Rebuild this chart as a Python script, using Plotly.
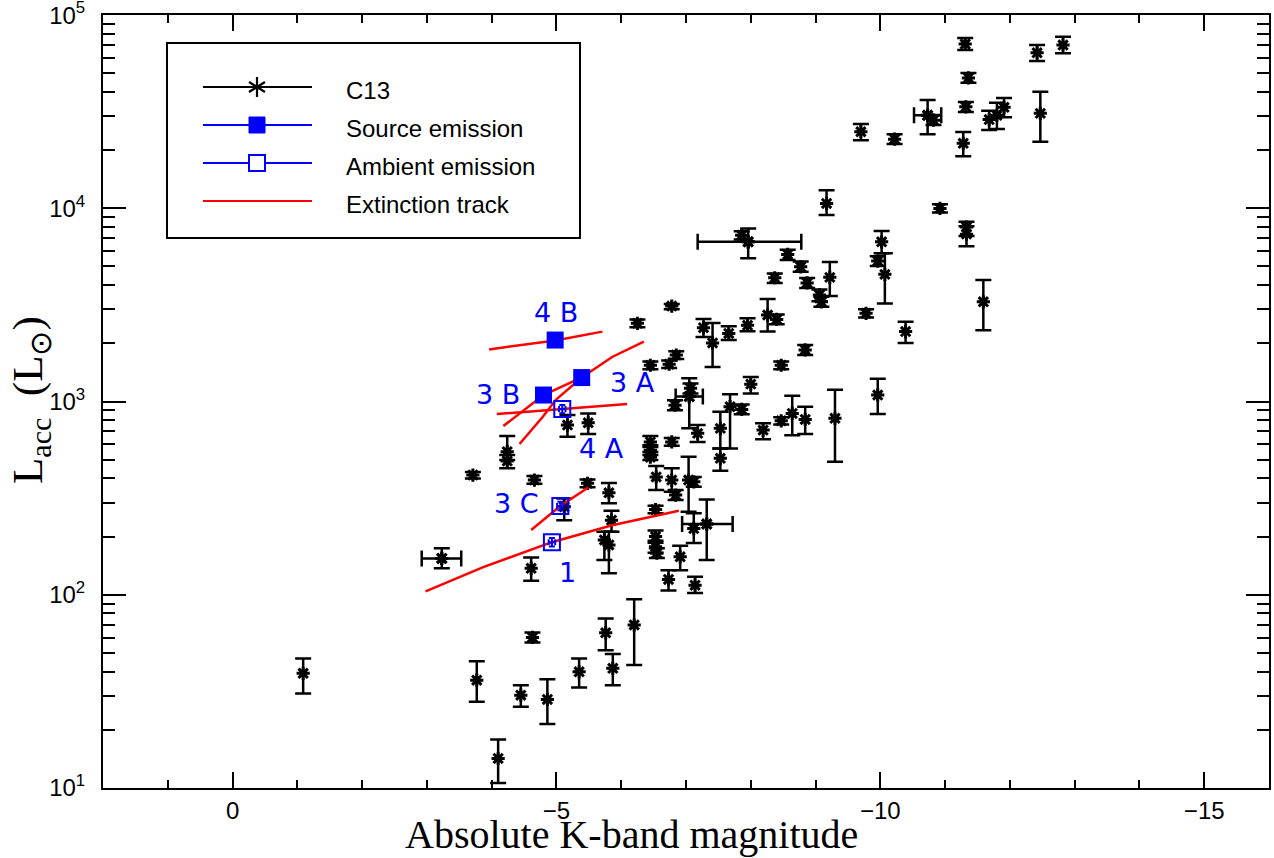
import math
import plotly.graph_objects as go

# ---------------- data ----------------
# C13 sample: absolute K magnitude, accretion luminosity (Lsun) and its error range
c13_mk = [-11.31, -12.42, -12.82, -11.36, -11.32, -10.73, -10.82, -11.28, -11.68, -11.80,
          -11.91, -12.47, -9.70, -10.22, -10.92, -11.33, -11.33, -10.02, -9.96, -10.07,
          -9.78, -10.39, -11.59, -9.96, -9.17, -7.96, -7.86, -8.57, -8.77, -8.37,
          -9.22, -8.87, -9.06, -9.09, -6.78, -7.27, -7.41, -7.66, -7.95, -8.26,
          -8.40, -8.84, -6.85, -6.74, -6.45, -8.47, -8.00, -7.05, -7.07, -6.83,
          -7.68, -7.86, -7.53, -7.18, -8.19, -8.47, -8.64, -8.84, -9.30, -7.53,
          -6.78, -6.25, -5.49, -5.17, -6.45, -6.45, -6.45, -6.54, -6.78, -6.84,
          -7.04, -7.12, -5.48, -5.81, -6.53, -5.85, -7.32, -7.12, -5.74, -5.81,
          -6.53, -6.53, -6.55, -6.91, -6.73, -7.14, -5.76, -5.87, -6.20, -5.35,
          -4.86, -4.45, -3.77, -4.10, -4.63, -4.61, -3.23, -1.09, -4.24, -4.24,
          -3.71, -4.66, -5.12]
c13_lacc = [70800, 63800, 70000, 47300, 33500, 30300, 28600, 21700, 28800, 30300,
            33300, 31000, 24900, 22800, 9990, 8000, 7350, 6710, 5330, 4550,
            2860, 2300, 3280, 1080, 10600, 6710, 7260, 5770, 4980, 4370,
            4390, 4110, 3560, 3280, 3120, 2410, 2010, 2250, 2480, 2800,
            2660, 1850, 1740, 1560, 1540, 1540, 1230, 1060, 1170, 957,
            940, 910, 726, 684, 711, 794, 867, 807, 818, 508,
            618, 2540, 776, 755, 618, 560, 515, 407, 392, 328,
            392, 384, 377, 337, 276, 243, 232, 220, 192, 181,
            200, 177, 164, 157, 120, 112, 63.5, 41.6, 69.7, 39.9,
            28.7, 30.2, 36.1, 14.2, 60.1, 137, 154, 39.2, 550, 492,
            416, 392, 285]
c13_lacc_lo = [65900, 57800, 63500, 44600, 31500, 24200, 27000, 18600, 25400, 25700,
               29600, 22100, 22500, 21500, 9500, 7180, 6370, 5860, 5030, 3220,
               2720, 2010, 2340, 861, 9220, 5510, 6900, 5400, 4700, 4100,
               3520, 3870, 3300, 3090, 3000, 2160, 1510, 2080, 2310, 2300,
               2510, 1740, 1660, 1490, 1470, 1470, 1100, 726, 1100, 902,
               571, 858, 571, 618, 637, 760, 668, 678, 488, 438,
               591, 2420, 678, 656, 581, 528, 498, 348, 341, 309,
               269, 362, 360, 297, 264, 212, 151, 185, 151, 129,
               186, 165, 155, 134, 105, 102, 51.6, 34.0, 43.3, 33.1,
               21.4, 26.3, 27.9, 10.6, 56.6, 118, 137, 30.8, 498, 451,
               400, 375, 243]
c13_lacc_hi = [76000, 70000, 77300, 50200, 35500, 36300, 30400, 24800, 32000, 35200,
               37200, 40100, 27300, 24200, 10500, 8510, 8070, 7620, 5650, 5860,
               3000, 2590, 4250, 1310, 12400, 7870, 7600, 6100, 5300, 4600,
               5280, 4360, 3800, 3480, 3200, 2670, 2550, 2450, 2700, 3390,
               2820, 1960, 1820, 1630, 1610, 1610, 1340, 1320, 1240, 1015,
               1090, 965, 885, 755, 771, 830, 1070, 940, 1150, 571,
               647, 2660, 867, 851, 662, 594, 547, 463, 451, 348,
               518, 407, 395, 379, 289, 272, 311, 264, 212, 212,
               215, 190, 174, 179, 134, 124, 75.3, 49.3, 94.8, 46.8,
               36.5, 34.0, 45.3, 17.8, 63.8, 156, 174, 46.8, 662, 528,
               432, 411, 315]
# the few C13 sources that also carry a magnitude error bar
c13_xerr_index = [5, 25, 47, 76, 96]
c13_xerr_faint = [-10.52, -7.18, -6.84, -6.94, -2.92]
c13_xerr_bright = [-10.94, -8.78, -7.26, -7.72, -3.53]

# this work: source emission (filled) and ambient emission (open)
src_mk = [-4.98, -5.39, -4.80]
src_lacc = [2080, 1330, 1080]
src_names = ["4 B", "3 A", "3 B"]
src_label_mk = [-5.00, -6.17, -4.10]
src_label_lacc = [2880, 1260, 1090]

amb_mk = [-5.09, -5.06, -4.93]
amb_lacc = [914, 288, 187]
amb_err_pct = 5
amb_err_mag = [0.05, 0.05, 0.05]
amb_names = ["4 A", "3 C", "1"]
amb_label_mk = [-5.69, -4.38, -5.17]
amb_label_lacc = [571, 297, 131]

# extinction tracks
track_4B_mk = [-3.96, -4.98, -5.71]
track_4B_lacc = [1860, 2070, 2300]
track_4A_mk = [-4.08, -5.09, -6.09]
track_4A_lacc = [861, 914, 970]
track_3A_mk = [-4.43, -4.79, -4.99, -5.25, -5.39, -5.86, -6.35]
track_3A_lacc = [603, 834, 1020, 1220, 1330, 1700, 2040]
track_3B_mk = [-4.18, -4.43, -4.80, -5.30]
track_3B_lacc = [746, 869, 1080, 1290]
track_3C_mk = [-4.61, -5.06, -5.49]
track_3C_lacc = [216, 288, 359]
track_1_mk = [-2.98, -3.87, -4.93, -5.86, -6.89]
track_1_lacc = [104, 139, 187, 229, 272]

x_tickvals = [0, -5, -10, -15]
x_ticktext = ["0", "\u22125", "\u221210", "\u221215"]
y_tickvals = [10, 100, 1000, 10000, 100000]
y_ticktext = ["10<sup>1</sup>", "10<sup>2</sup>", "10<sup>3</sup>", "10<sup>4</sup>", "10<sup>5</sup>"]

legend_names = ["C13", "Source emission", "Ambient emission", "Extinction track"]

# ---------------- figure ----------------
W, H = 1274, 858
ML, MR, MT, MB = 103, 5, 15, 70
PW, PH = W - ML - MR, H - MT - MB


def px(xp):
    return (xp - ML) / PW


def py(yp):
    return 1 - (yp - MT) / PH


BLACK = "#000000"
BLUE = "#0000ff"
RED = "#ff0000"

fig = go.Figure()

# C13 points with luminosity error bars
fig.add_trace(go.Scatter(
    x=c13_mk, y=c13_lacc, mode="markers", showlegend=False,
    marker=dict(symbol="asterisk-open", size=11, color=BLACK, line=dict(color=BLACK, width=3)),
    error_y=dict(type="data", symmetric=False,
                 array=[h - v for h, v in zip(c13_lacc_hi, c13_lacc)],
                 arrayminus=[v - l for l, v in zip(c13_lacc_lo, c13_lacc)],
                 color=BLACK, thickness=2.5, width=8),
))
# magnitude error bars for the subset that has them
sx = [c13_mk[i] for i in c13_xerr_index]
sy = [c13_lacc[i] for i in c13_xerr_index]
fig.add_trace(go.Scatter(
    x=sx, y=sy, mode="markers", showlegend=False,
    marker=dict(symbol="asterisk-open", size=11, color=BLACK, line=dict(color=BLACK, width=3)),
    error_x=dict(type="data", symmetric=False,
                 array=[max(a, b) - v for a, b, v in zip(c13_xerr_faint, c13_xerr_bright, sx)],
                 arrayminus=[v - min(a, b) for a, b, v in zip(c13_xerr_faint, c13_xerr_bright, sx)],
                 color=BLACK, thickness=2.5, width=8),
))

# extinction tracks
for tx, ty in [(track_4B_mk, track_4B_lacc), (track_4A_mk, track_4A_lacc),
               (track_3A_mk, track_3A_lacc), (track_3B_mk, track_3B_lacc),
               (track_3C_mk, track_3C_lacc), (track_1_mk, track_1_lacc)]:
    fig.add_trace(go.Scatter(x=tx, y=ty, mode="lines", showlegend=False,
                             line=dict(color=RED, width=2.5)))

# source emission (filled squares)
fig.add_trace(go.Scatter(
    x=src_mk, y=src_lacc, mode="markers", showlegend=False,
    marker=dict(symbol="square", size=17, color=BLUE, line=dict(width=0)),
))
# ambient emission (open squares, small error bars)
fig.add_trace(go.Scatter(
    x=amb_mk, y=amb_lacc, mode="markers", showlegend=False,
    marker=dict(symbol="square-open", size=16, color=BLUE, line=dict(color=BLUE, width=2)),
    error_y=dict(type="percent", value=amb_err_pct, color=BLUE, thickness=2, width=3),
    error_x=dict(type="data", array=amb_err_mag, color=BLUE, thickness=2, width=3),
))

annotations = []
for nm, lx, ly in list(zip(src_names, src_label_mk, src_label_lacc)) + list(zip(amb_names, amb_label_mk, amb_label_lacc)):
    annotations.append(dict(x=lx, y=math.log10(ly), xref="x", yref="y", text=nm,
                            showarrow=False, font=dict(family="DejaVu Sans", size=27, color=BLUE),
                            xanchor="center", yanchor="middle"))

# axis titles
annotations.append(dict(x=px(631), y=py(858), xref="paper", yref="paper",
                        text="Absolute K-band magnitude", showarrow=False, borderpad=0,
                        font=dict(family="Liberation Serif", size=40, color=BLACK),
                        xanchor="center", yanchor="bottom"))
annotations.append(dict(x=px(31), y=py(400), xref="paper", yref="paper",
                        text="L<sub>acc</sub>\u2002(L<sub>\u2299</sub>)", showarrow=False, textangle=-90,
                        font=dict(family="Liberation Serif", size=43, color=BLACK),
                        xanchor="center", yanchor="middle"))

# legend drawn as a framed key
shapes = [dict(type="rect", xref="paper", yref="paper", x0=px(167), x1=px(580), y0=py(238), y1=py(43),
               line=dict(color=BLACK, width=2), fillcolor="white", layer="above")]
rows_y = [87, 125, 163, 201]
row_col = [BLACK, BLUE, BLUE, RED]
for ry, col, nm in zip(rows_y, row_col, legend_names):
    shapes.append(dict(type="line", xref="paper", yref="paper", x0=px(203), x1=px(312), y0=py(ry), y1=py(ry),
                       line=dict(color=col, width=2), layer="above"))
    annotations.append(dict(x=px(344), y=py(ry + 4), xref="paper", yref="paper", text=nm, showarrow=False,
                            font=dict(family="Liberation Sans", size=24, color=BLACK),
                            xanchor="left", yanchor="middle"))
# key symbols
shapes.append(dict(type="path", xref="paper", yref="paper", xsizemode="pixel", ysizemode="pixel",
                   xanchor=px(257), yanchor=py(rows_y[0]),
                   path="M0,-10L0,10M-8,-5L8,5M-8,5L8,-5", line=dict(color=BLACK, width=2.2), layer="above"))
shapes.append(dict(type="rect", xref="paper", yref="paper", xsizemode="pixel", ysizemode="pixel",
                   xanchor=px(257), yanchor=py(rows_y[1]), x0=-8, x1=8, y0=-8, y1=8,
                   fillcolor=BLUE, line=dict(color=BLUE, width=1), layer="above"))
shapes.append(dict(type="rect", xref="paper", yref="paper", xsizemode="pixel", ysizemode="pixel",
                   xanchor=px(257), yanchor=py(rows_y[2]), x0=-8, x1=8, y0=-8, y1=8,
                   fillcolor="white", line=dict(color=BLUE, width=2), layer="above"))

fig.update_layout(
    width=W, height=H,
    margin=dict(l=ML, r=MR, t=MT, b=MB, autoexpand=False),
    paper_bgcolor="white", plot_bgcolor="white",
    showlegend=False,
    annotations=annotations, shapes=shapes,
    font=dict(family="Liberation Sans", size=24, color=BLACK),
)
fig.update_xaxes(
    range=[2, -16], tickmode="array", tickvals=x_tickvals, ticktext=x_ticktext,
    ticks="inside", ticklen=16, tickwidth=2, tickcolor=BLACK,
    minor=dict(tick0=0, dtick=1, ticks="inside", ticklen=8, tickwidth=2, tickcolor=BLACK, showgrid=False),
    showline=True, linewidth=2, linecolor=BLACK, mirror="allticks",
    showgrid=False, zeroline=False, ticklabelstandoff=0, automargin=False,
    tickfont=dict(family="Liberation Sans", size=24, color=BLACK),
)
fig.update_yaxes(
    type="log", range=[0.9995, 5.0005], tickmode="array", tickvals=y_tickvals, ticktext=y_ticktext,
    ticks="inside", ticklen=23, tickwidth=2, tickcolor=BLACK,
    minor=dict(tickmode="array", tickvals=[m * 10 ** e for e in range(1, 5) for m in range(2, 10)],
               ticks="inside", ticklen=12, tickwidth=2, tickcolor=BLACK, showgrid=False),
    showline=True, linewidth=2, linecolor=BLACK, mirror="allticks",
    showgrid=False, zeroline=False, ticklabelstandoff=11, ticklabeloverflow="allow", automargin=False,
    tickfont=dict(family="Liberation Sans", size=24, color=BLACK),
)

fig.write_html("out.html")
